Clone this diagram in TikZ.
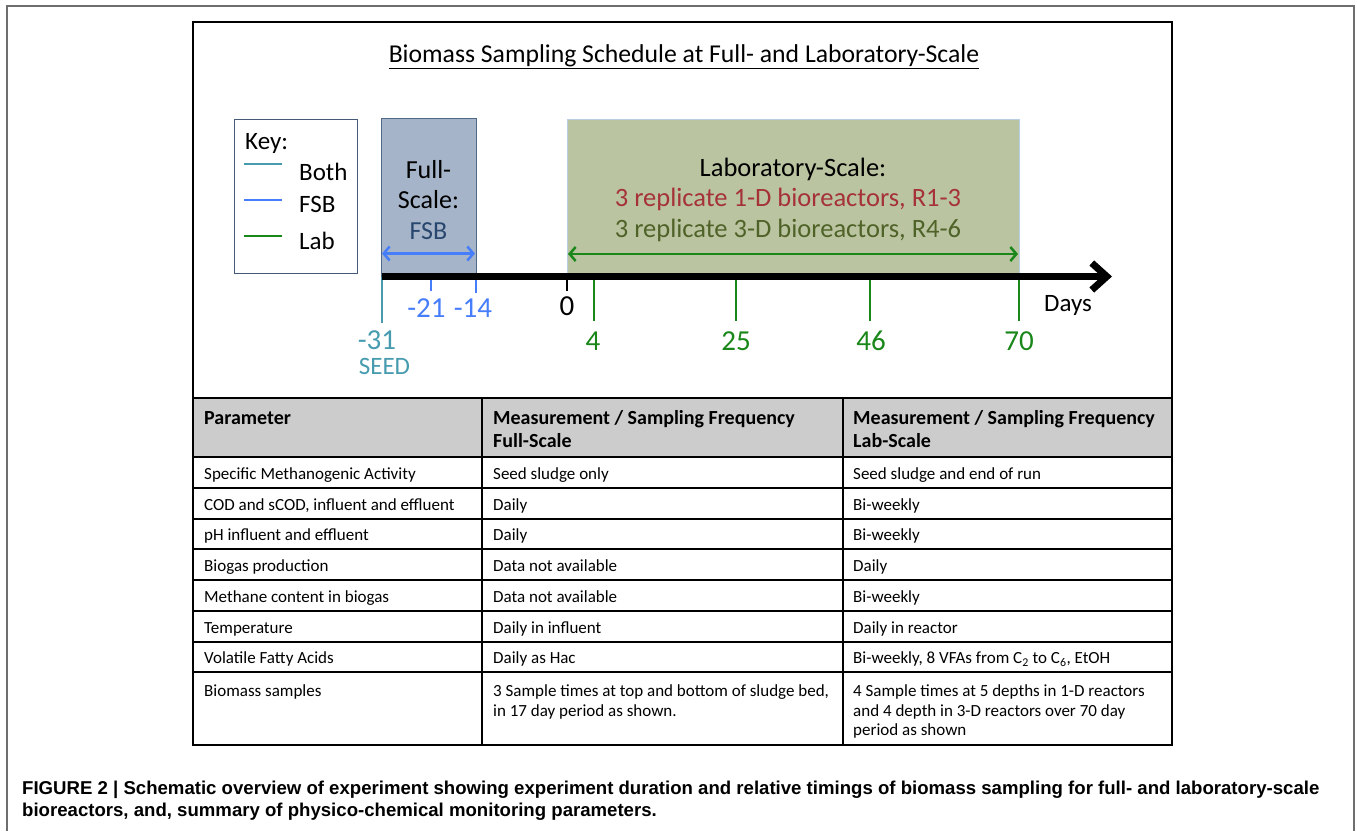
\documentclass[tikz,border=0pt]{standalone}
\usepackage{fontspec}
\setmainfont{Carlito}
\newfontfamily\capfont{Liberation Sans}
\usetikzlibrary{arrows.meta}

\definecolor{bothcol}{RGB}{70,155,175}
\definecolor{fsbcol}{RGB}{70,125,250}
\definecolor{labcol}{RGB}{25,135,25}
\definecolor{keyedge}{RGB}{70,90,120}
\definecolor{fsfill}{RGB}{165,180,200}
\definecolor{fsedge}{RGB}{80,105,135}
\definecolor{fstext}{RGB}{40,70,110}
\definecolor{labfill}{RGB}{187,196,160}
\definecolor{labedge}{RGB}{185,205,229}
\definecolor{redtext}{RGB}{165,50,55}
\definecolor{olivetext}{RGB}{79,98,40}
\definecolor{headfill}{RGB}{204,204,204}
\definecolor{framegray}{RGB}{110,110,110}

\begin{document}
\begin{tikzpicture}[x=1pt,y=-1pt,
  txt/.style={inner sep=0pt, font=\fontsize{25}{29}\selectfont},
  labtxt/.style={inner sep=0pt, font=\fontsize{26.5}{30}\selectfont},
  num/.style={inner sep=0pt, font=\fontsize{29}{32}\selectfont},
  cell/.style={anchor=base west, inner sep=0pt, align=left, font=\fontsize{17}{19.5}\selectfont},
  hcell/.style={anchor=base west, inner sep=0pt, align=left, font=\bfseries\fontsize{20}{22.7}\selectfont},
  barb/.style={{Straight Barb[length=6pt,width=14pt]}-{Straight Barb[length=6pt,width=14pt]}},
  tick/.style={line width=2pt}]
\useasboundingbox (0,0) rectangle (1357,831);
% Outer frame
\draw[framegray, line width=1.5pt] (7,831) -- (7,6) -- (1354,6) -- (1354,831);
% Title
\node[inner sep=0pt, font=\fontsize{25.7}{30}\selectfont] (title) at (684,57) {\underline{Biomass Sampling Schedule at Full- and Laboratory-Scale}};
% Key
\node[draw=keyedge, line width=1.3pt, minimum width=123pt, minimum height=154pt, anchor=north west] (key) at (234,118.5) {};
\node[txt, anchor=west] (keytitle) at (245,143) {Key:};
\draw[bothcol, line width=2.8pt] (244,164) -- (282,164);
\draw[fsbcol, line width=2.8pt] (244,200) -- (282,200);
\draw[labcol, line width=2.8pt] (244,236) -- (282,236);
\node[txt, anchor=west] (keyboth) at (299,172) {Both};
\node[txt, anchor=west] (keyfsb) at (299,204) {FSB};
\node[txt, anchor=west] (keylab) at (299,241) {Lab};
% Full-scale box
\node[draw=fsedge, fill=fsfill, line width=1pt, minimum width=95pt, minimum height=159pt, anchor=north west] (fullbox) at (381,117.5) {};
\node[txt, font=\fontsize{26}{29}\selectfont] (full1) at (428.5,170) {Full-};
\node[txt, font=\fontsize{26}{29}\selectfont] (full2) at (428.5,200) {Scale:};
\node[txt, font=\fontsize{26}{29}\selectfont, text=fstext] (full3) at (428.5,231) {FSB};
\coordinate (fsL) at (382,253.5);
\coordinate (fsR) at (475,253.5);
\draw[fsbcol, line width=2.5pt, barb] (fsL) -- (fsR);
% Lab-scale box
\node[draw=labedge, fill=labfill, line width=1pt, minimum width=452pt, minimum height=158pt, anchor=north west] (labbox) at (567,119) {};
\node[labtxt] (lab1) at (793,169) {Laboratory-Scale:};
\node[labtxt, text=redtext] (lab2) at (788,199.5) {3 replicate 1-D bioreactors, R1-3};
\node[labtxt, text=olivetext] (lab3) at (788,230) {3 replicate 3-D bioreactors, R4-6};
\coordinate (labL) at (568,254);
\coordinate (labR) at (1018,254);
\draw[labcol, line width=2.5pt, barb] (labL) -- (labR);
% Ticks
\coordinate (t31) at (382,277);
\coordinate (t21) at (431,277);
\coordinate (t14) at (476,277);
\coordinate (t0) at (567,277);
\coordinate (t4) at (594,277);
\coordinate (t25) at (736,277);
\coordinate (t46) at (870,277);
\coordinate (t70) at (1019,277);
\draw[bothcol, tick] (t31) -- +(0,46);
\draw[fsbcol, tick] (t21) -- +(0,14);
\draw[fsbcol, tick] (t14) -- +(0,16);
\draw[black, tick] (t0) -- +(0,14);
\draw[labcol, tick] (t4) -- +(0,44);
\draw[labcol, tick] (t25) -- +(0,44);
\draw[labcol, tick] (t46) -- +(0,44);
\draw[labcol, tick] (t70) -- +(0,44);
% Timeline
\coordinate (tend) at (1112,276.5);
\draw[line width=7pt, -{Straight Barb[length=15pt,width=27pt]}] (t31 |- tend) -- (tend);
% Tick labels
\node[num, text=bothcol] (l31) at (377,340) {-31};
\node[txt, text=bothcol] (seed) at (384.5,366.5) {SEED};
\node[num, text=fsbcol] (l21) at (426.5,308) {-21};
\node[num, text=fsbcol] (l14) at (473,308) {-14};
\node[num] (l0) at (567,306) {0};
\node[num, text=labcol] (l4) at (593,341) {4};
\node[num, text=labcol] (l25) at (736,341) {25};
\node[num, text=labcol] (l46) at (871,341) {46};
\node[num, text=labcol] (l70) at (1019,341) {70};
\node[txt] (days) at (1068,305) {Days};
% Table
\fill[headfill] (193,399) rectangle (1172,457);
\draw[line width=1.3pt] (193,22) rectangle (1172,745);
\draw[line width=2.5pt] (193,398) -- (1172,398);
\foreach \yy in {457,488,519,549,580,611,642,672}
  \draw[line width=1.2pt] (193,\yy) -- (1172,\yy);
\draw[line width=1.2pt] (482,398) -- (482,745);
\draw[line width=1.2pt] (843,398) -- (843,745);
% Header row
\node[hcell] (h1) at (204,424.5) {Parameter};
\node[hcell] (h2) at (493,447) {Measurement / Sampling Frequency\\Full-Scale};
\node[hcell] (h3) at (853,447) {Measurement / Sampling Frequency\\Lab-Scale};
% Body rows
\node[cell] (p1) at (204,479) {Specific Methanogenic Activity};
\node[cell] (f1) at (493,479) {Seed sludge only};
\node[cell] (s1) at (853,479) {Seed sludge and end of run};
\node[cell] (p2) at (204,510) {COD and sCOD, influent and effluent};
\node[cell] (f2) at (493,510) {Daily};
\node[cell] (s2) at (853,510) {Bi-weekly};
\node[cell] (p3) at (204,540.5) {pH influent and effluent};
\node[cell] (f3) at (493,540.5) {Daily};
\node[cell] (s3) at (853,540.5) {Bi-weekly};
\node[cell] (p4) at (204,571.5) {Biogas production};
\node[cell] (f4) at (493,571.5) {Data not available};
\node[cell] (s4) at (853,571.5) {Daily};
\node[cell] (p5) at (204,602) {Methane content in biogas};
\node[cell] (f5) at (493,602) {Data not available};
\node[cell] (s5) at (853,602) {Bi-weekly};
\node[cell] (p6) at (204,633) {Temperature};
\node[cell] (f6) at (493,633) {Daily in influent};
\node[cell] (s6) at (853,633) {Daily in reactor};
\node[cell] (p7) at (204,663.5) {Volatile Fatty Acids};
\node[cell] (f7) at (493,663.5) {Daily as Hac};
\node[cell] (s7) at (853,663.5) {Bi-weekly, 8 VFAs from C\textsubscript{2} to C\textsubscript{6}, EtOH};
\node[cell] (p8) at (204,696) {Biomass samples};
\node[cell] (f8) at (493,716) {3 Sample times at top and bottom of sludge bed,\\in 17 day period as shown.};
\node[cell] (s8) at (853,735.5) {4 Sample times at 5 depths in 1-D reactors\\and 4 depth in 3-D reactors over 70 day\\period as shown};
% Caption
\node[anchor=base west, inner sep=0pt, font=\capfont\bfseries\fontsize{18.6}{22}\selectfont] (cap1) at (22,794) {FIGURE 2 {\textbar} Schematic overview of experiment showing experiment duration and relative timings of biomass sampling for full- and laboratory-scale};
\node[anchor=base west, inner sep=0pt, font=\capfont\bfseries\fontsize{18.6}{22}\selectfont] (cap2) at (22,816) {bioreactors, and, summary of physico-chemical monitoring parameters.};
\end{tikzpicture}
\end{document}
